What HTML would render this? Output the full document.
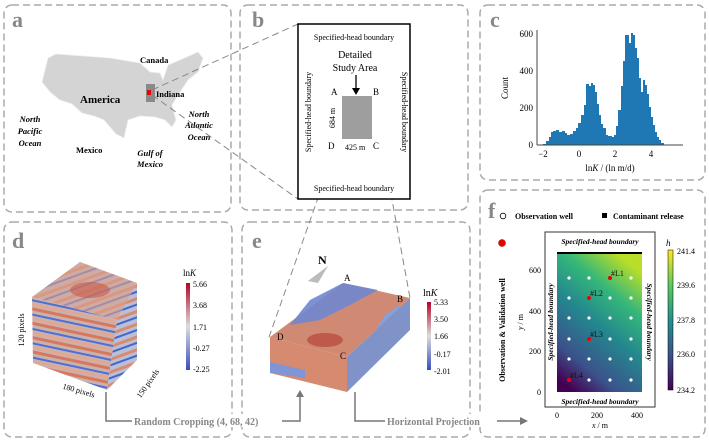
<!DOCTYPE html>
<html><head><meta charset="utf-8"><style>
html,body{margin:0;padding:0;background:#fff;}
svg{display:block;font-family:"Liberation Serif",serif;}
</style></head><body>
<svg width="709" height="442" viewBox="0 0 709 442" xmlns="http://www.w3.org/2000/svg">
<defs>
<linearGradient id="cw" x1="0" y1="1" x2="0" y2="0"><stop offset="0" stop-color="#3a4cc0"/><stop offset="0.5" stop-color="#dcdcdc"/><stop offset="1" stop-color="#b40426"/></linearGradient>
<linearGradient id="vir" x1="0" y1="1" x2="0" y2="0"><stop offset="0" stop-color="#440154"/><stop offset="0.25" stop-color="#3b528b"/><stop offset="0.5" stop-color="#21918c"/><stop offset="0.75" stop-color="#5ec962"/><stop offset="1" stop-color="#fde725"/></linearGradient>
<linearGradient id="field" x1="0.2" y1="1" x2="0.7" y2="0"><stop offset="0" stop-color="#440154"/><stop offset="0.2" stop-color="#3b528b"/><stop offset="0.5" stop-color="#23888e"/><stop offset="0.75" stop-color="#35b779"/><stop offset="1" stop-color="#b8de29"/></linearGradient>
<pattern id="stripes" width="40" height="14" patternUnits="userSpaceOnUse" patternTransform="rotate(12)">
<rect width="40" height="14" fill="#c9b2ae"/><rect y="0" width="40" height="3" fill="#d9775c"/><rect y="6" width="40" height="2" fill="#4d6fd8"/><rect y="10" width="40" height="2" fill="#e8a58b"/></pattern>
<pattern id="stripes2" width="30" height="12" patternUnits="userSpaceOnUse" patternTransform="rotate(-20)">
<rect width="30" height="12" fill="#b9bfd4"/><rect y="2" width="30" height="3" fill="#d98a70"/><rect y="8" width="30" height="2" fill="#4466cc"/></pattern>
</defs>
<g fill="none" stroke="#aaa" stroke-width="1.5" stroke-dasharray="7,4">
<rect x="4" y="5" width="227" height="207" rx="8"/>
<rect x="240" y="5" width="228" height="205" rx="8"/>
<rect x="480" y="5" width="225" height="175" rx="8"/>
<rect x="4" y="222" width="228" height="215" rx="8"/>
<rect x="242" y="222" width="228" height="215" rx="8"/>
<rect x="480" y="190" width="225" height="247" rx="8"/>
</g>
<g fill="#888" font-weight="bold" font-size="22">
<text x="12" y="27">a</text><text x="252" y="27">b</text><text x="490" y="27">c</text>
<text x="12" y="248">d</text><text x="252" y="248">e</text><text x="488" y="218">f</text>
</g>
<!-- panel a map -->
<path d="M48,58 L56,54 L110,58 L140,63 L150,72 L160,73 L163,80 L168,65 L180,60 L198,52 L203,58 L198,72 L188,80 L180,92 L172,105 L176,120 L172,127 L165,120 L155,117 L140,116 L128,120 L124,138 L116,134 L104,120 L94,116 L82,113 L72,104 L60,100 L50,92 L42,82 Z" fill="#d4d4d4" stroke="#eee" stroke-width="0.8"/>
<rect x="146" y="84" width="9" height="18" fill="#8a8a8a"/>
<rect x="147" y="90" width="4" height="5" fill="#e00"/>
<g font-weight="bold" font-size="8.5" fill="#000">
<text x="140" y="63">Canada</text><text x="156" y="97">Indiana</text>
<text x="80" y="103" font-size="11">America</text><text x="76" y="153">Mexico</text>
<g font-style="italic" text-anchor="middle"><text x="30" y="122">North</text><text x="30" y="134">Pacific</text><text x="30" y="146">Ocean</text>
<text x="199" y="117">North</text><text x="199" y="128">Atlantic</text><text x="199" y="140">Ocean</text>
<text x="150" y="156">Gulf of</text><text x="150" y="167">Mexico</text></g></g>
<g stroke="#888" stroke-dasharray="7,4" fill="none"><line x1="152" y1="90" x2="298" y2="24"/><line x1="152" y1="95" x2="298" y2="199"/>
<line x1="337" y1="144" x2="268" y2="340"/><line x1="373" y1="96" x2="410" y2="298"/></g>
<!-- panel b -->
<rect x="298" y="24" width="112" height="175" fill="#fff" stroke="#000" stroke-width="1.5"/>
<rect x="342" y="96" width="30" height="43" fill="#9e9e9e"/>
<g font-size="8" fill="#000"><text x="354" y="40" text-anchor="middle">Specified-head boundary</text>
<text x="354" y="191" text-anchor="middle">Specified-head boundary</text>
<text transform="translate(311,112) rotate(-90)" text-anchor="middle">Specified-head boundary</text>
<text transform="translate(402,112) rotate(90)" text-anchor="middle">Specified-head boundary</text>
<text x="355" y="58" text-anchor="middle" font-size="10">Detailed</text><text x="355" y="71" text-anchor="middle" font-size="10">Study Area</text>
<text x="331" y="95" font-size="9">A</text><text x="373" y="95" font-size="9">B</text><text x="328" y="149" font-size="9">D</text><text x="373" y="149" font-size="9">C</text>
<text x="345" y="150">425 m</text><text transform="translate(335,118) rotate(-90)" text-anchor="middle">684 m</text></g>
<line x1="356" y1="75" x2="356" y2="92" stroke="#000" stroke-width="1.3"/><path d="M352,88 L360,88 L356,95Z"/>
<!-- panel c histogram -->
<g fill="#1f77b4">
<path d="M540,145 L543,145 L543,144 L546,144 L546,141 L549,141 L549,137 L551,137 L551,132 L553,132 L553,131 L556,131 L556,130 L559,130 L559,132 L562,132 L562,131 L565,131 L565,133 L567,133 L567,135 L570,135 L570,134 L573,134 L573,131 L576,131 L576,128 L578,128 L578,123 L581,123 L581,115 L584,115 L584,105 L586,105 L586,84 L589,84 L589,86 L591,86 L591,83 L593,83 L593,85 L595,85 L595,92 L597,92 L597,104 L599,104 L599,115 L601,115 L601,124 L603,124 L603,128 L606,128 L606,135 L608,135 L608,136 L612,136 L612,137 L614,137 L614,135 L616,135 L616,126 L618,126 L618,110 L621,110 L621,86 L623,86 L623,61 L625,61 L625,35 L628,35 L628,35 L629,35 L629,43 L631,43 L631,33 L633,33 L633,35 L635,35 L635,48 L637,48 L637,58 L639,58 L639,78 L641,78 L641,92 L643,92 L643,80 L645,80 L645,85 L647,85 L647,94 L649,94 L649,107 L651,107 L651,117 L653,117 L653,125 L655,125 L655,132 L657,132 L657,137 L659,137 L659,140 L661,140 L661,143 L664,143 L664,145 Z"/></g>
<g stroke="#444" stroke-width="1" fill="none"><line x1="537" y1="30" x2="537" y2="145"/><line x1="537" y1="145" x2="683" y2="145"/></g>
<g font-size="9" fill="#000">
<text x="533" y="148" text-anchor="end">0</text><text x="533" y="111" text-anchor="end">200</text><text x="533" y="74" text-anchor="end">400</text><text x="533" y="37" text-anchor="end">600</text>
<text x="543" y="157" text-anchor="middle">−2</text><text x="579" y="157" text-anchor="middle">0</text><text x="615" y="157" text-anchor="middle">2</text><text x="651" y="157" text-anchor="middle">4</text>
<text x="610" y="171" text-anchor="middle">ln<tspan font-style="italic">K</tspan> / (ln m/d)</text>
<text transform="translate(508,88) rotate(-90)" text-anchor="middle">Count</text></g>
<!-- panel d cube -->
<polygon points="32,297 80,262 137,283 117,320" fill="#d9a08c"/>
<polygon points="32,297 80,262 137,283 117,320" fill="url(#stripes2)" opacity="0.35"/>
<ellipse cx="90" cy="290" rx="20" ry="8" fill="#c85a4a" opacity="0.6"/>
<polygon points="32,297 117,320 107,390 33,363" fill="url(#stripes)"/>
<polygon points="117,320 137,283 137,360 107,390" fill="url(#stripes2)"/>
<rect x="186" y="283" width="4" height="87" fill="url(#cw)"/>
<g font-size="8" fill="#000"><text x="183" y="276" font-size="9">ln<tspan font-style="italic">K</tspan></text>
<text x="193" y="287">5.66</text><text x="193" y="308">3.68</text><text x="193" y="330">1.71</text><text x="193" y="351">-0.27</text><text x="193" y="372">-2.25</text>
<text transform="translate(24,330) rotate(-90)" text-anchor="middle">120 pixels</text>
<text transform="translate(78,393) rotate(16)" text-anchor="middle">180 pixels</text>
<text transform="translate(150,385) rotate(-55)" text-anchor="middle">150 pixels</text></g>
<!-- panel e cube -->
<polygon points="343,283 410,298 347,357 270,337" fill="#d08a74"/>
<path d="M343,283 L378,290 L350,305 L320,320 L290,325 L310,300Z" fill="#6f86d0" opacity="0.9"/>
<path d="M400,305 L395,330 L370,340 L385,315Z" fill="#8aa0d8"/>
<ellipse cx="325" cy="340" rx="18" ry="7" fill="#b8443a" opacity="0.7"/>
<polygon points="270,337 347,357 347,392 270,373" fill="#d68a70"/>
<polygon points="270,362 305,370 305,378 270,373" fill="#7f95d6"/>
<polygon points="347,357 410,298 410,330 347,392" fill="#7f93c9"/>
<path d="M308,281 L322,273 L328,266 L312,280Z" fill="#e33"/><path d="M308,281 L328,266 L318,283Z" fill="#bbb"/>
<rect x="427" y="302" width="4" height="68" fill="url(#cw)"/>
<g font-size="8" fill="#000"><text x="423" y="296" font-size="10">ln<tspan font-style="italic">K</tspan></text>
<text x="434" y="305">5.33</text><text x="434" y="322">3.50</text><text x="434" y="339">1.66</text><text x="434" y="357">-0.17</text><text x="434" y="374">-2.01</text>
<text x="344" y="281" font-size="9">A</text><text x="397" y="302" font-size="9">B</text><text x="277" y="340" font-size="9">D</text><text x="340" y="359" font-size="9">C</text>
<text x="318" y="264" font-size="12" font-weight="bold">N</text></g>
<!-- arrows -->
<g stroke="#777" stroke-width="1.5" fill="none"><polyline points="106,392 106,421 300,421 300,395"/><polyline points="355,392 355,421 520,421"/></g>
<path d="M296,397 L304,397 L300,390Z" fill="#777"/><path d="M520,417 L528,421 L520,425Z" fill="#777"/>
<g font-size="10" fill="#888" font-weight="bold"><rect x="132" y="414" width="150" height="13" fill="#fff"/><text x="134" y="425">Random Cropping (4, 68, 42)</text>
<rect x="385" y="414" width="112" height="13" fill="#fff"/><text x="387" y="425">Horizontal Projection</text></g>
<!-- panel f -->
<g font-size="8" font-weight="bold" fill="#000"><circle cx="503" cy="216" r="2.8" fill="#fff" stroke="#000" stroke-width="0.8"/><text x="515" y="219">Observation well</text>
<rect x="602" y="213" width="5" height="5"/><text x="613" y="219">Contaminant release</text>
<text transform="translate(505,330) rotate(-90)" text-anchor="middle">Observation &amp; Validation well</text></g>
<circle cx="502" cy="243" r="3.5" fill="#e00" stroke="#800" stroke-width="0.5"/>
<rect x="545" y="232" width="110" height="175" fill="#fff" stroke="#333"/>
<rect x="557" y="253" width="85" height="139" fill="url(#field)"/>
<line x1="557" y1="253" x2="642" y2="253" stroke="#000" stroke-width="2"/>
<g fill="#fff">
<circle cx="569" cy="278" r="1.6"/><circle cx="589" cy="278" r="1.6"/><circle cx="631" cy="278" r="1.6"/>
<circle cx="569" cy="298" r="1.6"/><circle cx="610" cy="298" r="1.6"/><circle cx="631" cy="298" r="1.6"/>
<circle cx="569" cy="318" r="1.6"/><circle cx="589" cy="318" r="1.6"/><circle cx="610" cy="318" r="1.6"/><circle cx="631" cy="318" r="1.6"/>
<circle cx="569" cy="339" r="1.6"/><circle cx="610" cy="339" r="1.6"/><circle cx="631" cy="339" r="1.6"/>
<circle cx="569" cy="359" r="1.6"/><circle cx="589" cy="359" r="1.6"/><circle cx="610" cy="359" r="1.6"/><circle cx="631" cy="359" r="1.6"/>
<circle cx="589" cy="380" r="1.6"/><circle cx="610" cy="380" r="1.6"/><circle cx="631" cy="380" r="1.6"/></g>
<g fill="#e00"><circle cx="610" cy="278" r="2"/><circle cx="589" cy="298" r="2"/><circle cx="589" cy="339" r="2"/><circle cx="569" cy="380" r="2"/></g>
<g font-size="8" fill="#111"><text x="611" y="276">#L1</text><text x="590" y="296">#L2</text><text x="590" y="337">#L3</text><text x="570" y="378">#L4</text></g>
<g font-size="7.5" font-weight="bold" font-style="italic" fill="#000" text-anchor="middle">
<text x="600" y="244">Specified-head boundary</text><text x="600" y="404">Specified-head boundary</text>
<text transform="translate(553,322) rotate(-90)">Specified-head boundary</text>
<text transform="translate(647,322) rotate(90)">Specified-head boundary</text></g>
<g font-size="8" fill="#000"><text x="541" y="395" text-anchor="end">0</text><text x="541" y="354" text-anchor="end">200</text><text x="541" y="314" text-anchor="end">400</text><text x="541" y="273" text-anchor="end">600</text>
<text x="557" y="418" text-anchor="middle">0</text><text x="597" y="418" text-anchor="middle">200</text><text x="637" y="418" text-anchor="middle">400</text>
<text x="600" y="428" text-anchor="middle"><tspan font-style="italic">x</tspan> / m</text>
<text transform="translate(523,322) rotate(-90)" text-anchor="middle"><tspan font-style="italic">y</tspan> / m</text></g>
<rect x="668" y="250" width="5" height="140" fill="url(#vir)" stroke="#000" stroke-width="0.5"/>
<g font-size="8" fill="#000"><text x="666" y="246" font-style="italic" font-size="9">h</text>
<text x="677" y="254">241.4</text><text x="677" y="288">239.6</text><text x="677" y="323">237.8</text><text x="677" y="357">236.0</text><text x="677" y="393">234.2</text></g>
</svg>
</body></html>
